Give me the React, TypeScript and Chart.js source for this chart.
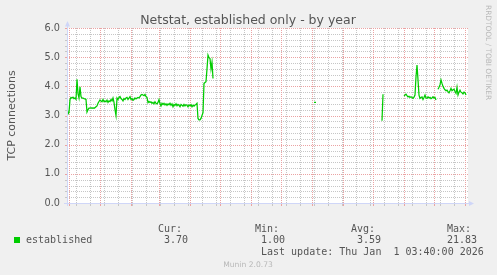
import React, { useEffect, useRef } from 'react';
import { Chart, registerables } from 'chart.js';

Chart.register(...registerables);

// ---- texts ----
const TITLE = 'Netstat, established only - by year';
const Y_TITLE = 'TCP connections';
const SERIES_NAME = 'established';
const STAT_HEADERS = ['Cur:', 'Min:', 'Avg:', 'Max:'];
const STAT_VALUES = ['3.70', '1.00', '3.59', '21.83'];
const LAST_UPDATE = 'Last update: Thu Jan  1 03:40:00 2026';
const VERSION = 'Munin 2.0.73';
const WATERMARK = 'RRDTOOL / TOBI OETIKER';

// ---- x axis (days relative to 2025-01-01) ----
const X_MIN = -33;
const X_MAX = 368;
const MONTH_LINES = [-31, 0, 31, 59, 90, 120, 151, 181, 212, 243, 273, 304, 334, 365];
const WEEK_LINES = [-24, -10, 4, 18, 32, 46, 60, 74, 88, 102, 116, 130, 144, 158, 172, 186, 200, 214, 228, 242, 256, 270, 284, 298, 312, 326, 340, 354];
const X_LABEL_POS = [15.5, 105, 196.5, 288.5];
const X_LABELS = ['January 2025', 'April 2025', 'July 2025', 'October 2025'];

// ---- y axis ----
const Y_MIN = 0;
const Y_MAX = 6;
const Y_MAJOR = [0, 1, 2, 3, 4, 5, 6];
const Y_MINOR_STEP = 0.2;

// ---- series (daily averages), segments separated by missing data ----
const SEG1_START = -33;
const SEG1 = [
  3.3, 3.05, 3.1, 3.55, 3.62, 3.6, 3.63, 3.58, 3.6, 3.55,
  4.24, 3.75, 3.6, 3.98, 3.65, 3.6, 3.6, 3.58, 3.57, 3.55,
  3.12, 3.2, 3.25, 3.25, 3.27, 3.25, 3.26, 3.25, 3.27, 3.3,
  3.33, 3.42, 3.48, 3.53, 3.5, 3.47, 3.55, 3.48, 3.5, 3.47,
  3.53, 3.45, 3.5, 3.48, 3.55, 3.5, 3.6, 3.45, 3.2, 3.0,
  3.6, 3.55, 3.62, 3.65, 3.58, 3.55, 3.5, 3.58, 3.55, 3.6,
  3.62, 3.55, 3.6, 3.65, 3.55, 3.58, 3.52, 3.55, 3.6, 3.57,
  3.6, 3.62, 3.6, 3.65, 3.7, 3.72, 3.7, 3.68, 3.72, 3.65,
  3.62, 3.44, 3.48, 3.45, 3.47, 3.42, 3.45, 3.4, 3.47, 3.42,
  3.4, 3.45, 3.55, 3.4, 3.33, 3.42, 3.38, 3.42, 3.36, 3.4,
  3.35, 3.4, 3.37, 3.42, 3.35, 3.4, 3.3, 3.38, 3.35, 3.4,
  3.33, 3.38, 3.35, 3.3, 3.38, 3.35, 3.32, 3.38, 3.33, 3.37,
  3.35, 3.3, 3.36, 3.33, 3.37, 3.3, 3.35, 3.32, 3.36, 3.38,
  3.42, 2.9, 2.85, 2.85, 2.9, 3.0, 3.1, 4.1, 4.13, 4.16,
  4.6, 5.07, 4.98, 4.95, 4.6, 4.83, 4.27,
];
const SEG2_START = 214;
const SEG2 = [3.45, 3.45, 3.45];
const SEG3_START = 282;
const SEG3 = [2.82, 3.73];
const SEG4_START = 304;
const SEG4 = [
  3.67, 3.7, 3.73, 3.68, 3.64, 3.66, 3.62, 3.64, 3.62, 3.59,
  3.63, 3.7, 4.33, 4.73, 4.22, 3.7, 3.59, 3.62, 3.64, 3.55,
  3.62, 3.7, 3.6, 3.59, 3.64, 3.6, 3.62, 3.58, 3.6, 3.64,
  3.6, 3.62, 3.53,
];
const SEG5_START = 338;
const SEG5 = [
  3.9, 3.97, 4.05, 4.22, 4.1, 4.0, 3.93, 3.88, 3.85, 3.87,
  3.82, 3.78, 3.85, 3.93, 3.85, 3.88, 3.9, 3.82, 3.76, 3.97,
  3.7, 3.8, 3.87, 3.8, 3.78, 3.74, 3.8, 3.78, 3.7,
];

// ---- styles ----
const BG = '#F0F0F0';
const CANVAS_BG = '#FFFFFF';
const FONT_COLOR = '#555555';
const AXIS_COLOR = '#CFD6F8';
const MAJOR_GRID = '#eba3a3';
const MINOR_GRID = '#c6c6c6';
const LINE_COLOR = '#00CC00';
const WM_COLOR = '#b8b8b8';
const SANS = "'DejaVu Sans', sans-serif";
const MONO = "'DejaVu Sans Mono', monospace";

function buildPoints() {
  const segs: [number, number[]][] = [
    [SEG1_START, SEG1],
    [SEG2_START, SEG2],
    [SEG3_START, SEG3],
    [SEG4_START, SEG4],
    [SEG5_START, SEG5],
  ];
  const pts: { x: number; y: number | null }[] = [];
  segs.forEach(([start, vals], si) => {
    if (si > 0) pts.push({ x: start - 0.5, y: null });
    vals.forEach((v, i) => pts.push({ x: start + i, y: v }));
  });
  return pts;
}

function yGridValues() {
  const n = Math.round((Y_MAX - Y_MIN) / Y_MINOR_STEP);
  const out: number[] = [];
  for (let i = 0; i <= n; i++) out.push(Math.round((Y_MIN + i * Y_MINOR_STEP) * 10) / 10);
  return out;
}

const isMajorY = (v: number) => Y_MAJOR.some((m) => Math.abs(m - v) < 1e-6);

const muninPlugin = {
  id: 'muninDecor',
  beforeDraw(chart: any) {
    const { ctx, chartArea: a } = chart;
    ctx.save();
    ctx.fillStyle = BG;
    ctx.fillRect(0, 0, chart.width, chart.height);
    ctx.fillStyle = CANVAS_BG;
    ctx.fillRect(a.left, a.top, a.right - a.left, a.bottom - a.top);
    ctx.restore();
  },
  beforeDatasetsDraw(chart: any) {
    // rrdtool-style dotted grid, positioned through the chart's scales
    const { ctx, chartArea: a, scales } = chart;
    const xs = scales.x;
    const ys = scales.y;
    const top = Math.round(a.top);
    const bottom = Math.round(a.bottom);
    const left = Math.round(a.left);
    const right = Math.round(a.right);
    ctx.save();
    const vLine = (v: number, color: string) => {
      const c = Math.round(xs.getPixelForValue(v));
      if (c < left || c >= right) return;
      ctx.fillStyle = color;
      for (let y = top; y < bottom; y += 2) ctx.fillRect(c, y, 1, 1);
      ctx.fillRect(c, bottom + 1, 1, 2); // tick mark below axis
    };
    const hLine = (v: number, color: string) => {
      const r = Math.round(ys.getPixelForValue(v));
      if (r < top || r > bottom) return;
      ctx.fillStyle = color;
      for (let x = left; x < right; x += 2) ctx.fillRect(x, r, 1, 1);
      ctx.fillRect(left - 2, r, 2, 1); // tick mark left of axis
    };
    const yv = yGridValues();
    WEEK_LINES.forEach((v) => vLine(v, MINOR_GRID));
    yv.filter((v) => !isMajorY(v)).forEach((v) => hLine(v, MINOR_GRID));
    MONTH_LINES.forEach((v) => vLine(v, MAJOR_GRID));
    yv.filter((v) => isMajorY(v)).forEach((v) => hLine(v, MAJOR_GRID));
    ctx.restore();
  },
  afterDraw(chart: any) {
    const { ctx, chartArea: a } = chart;
    ctx.save();
    // axes
    ctx.strokeStyle = AXIS_COLOR;
    ctx.lineWidth = 1;
    ctx.beginPath();
    ctx.moveTo(a.left - 3, a.bottom + 0.5);
    ctx.lineTo(a.right + 1, a.bottom + 0.5);
    ctx.moveTo(a.left + 0.5, a.bottom + 3);
    ctx.lineTo(a.left + 0.5, a.top - 2);
    ctx.stroke();
    ctx.fillStyle = AXIS_COLOR;
    ctx.beginPath();
    ctx.moveTo(a.right + 1, a.bottom - 2);
    ctx.lineTo(a.right + 6, a.bottom + 0.5);
    ctx.lineTo(a.right + 1, a.bottom + 3);
    ctx.closePath();
    ctx.fill();
    ctx.beginPath();
    ctx.moveTo(a.left - 2, a.top - 1.5);
    ctx.lineTo(a.left + 0.5, a.top - 7);
    ctx.lineTo(a.left + 3, a.top - 1.5);
    ctx.closePath();
    ctx.fill();

    // title
    ctx.fillStyle = FONT_COLOR;
    ctx.font = `12.5px ${SANS}`;
    ctx.textAlign = 'center';
    ctx.textBaseline = 'alphabetic';
    ctx.fillText(TITLE, 248, 24);

    // y title
    ctx.save();
    ctx.font = `11px ${SANS}`;
    ctx.translate(15, (a.top + a.bottom) / 2);
    ctx.rotate(-Math.PI / 2);
    ctx.textAlign = 'center';
    ctx.fillText(Y_TITLE, 0, 0);
    ctx.restore();

    // legend
    ctx.font = `10px ${MONO}`;
    ctx.textAlign = 'left';
    const headX = [158, 255, 351, 447];
    const valX = [164, 261, 357, 447];
    STAT_HEADERS.forEach((h, i) => ctx.fillText(h, headX[i], 231.5));
    ctx.fillStyle = LINE_COLOR;
    ctx.fillRect(14, 237, 6, 6);
    ctx.fillStyle = FONT_COLOR;
    ctx.fillText(SERIES_NAME, 26, 243);
    STAT_VALUES.forEach((v, i) => ctx.fillText(v, valX[i], 243));
    ctx.fillText(LAST_UPDATE, 261, 254.5);

    // watermarks
    ctx.fillStyle = WM_COLOR;
    ctx.font = `7.6px ${SANS}`;
    ctx.textAlign = 'center';
    ctx.fillText(VERSION, 248, 267);
    ctx.save();
    ctx.font = `7.4px ${SANS}`;
    ctx.translate(485.5, 5);
    ctx.rotate(Math.PI / 2);
    ctx.textAlign = 'left';
    ctx.fillText(WATERMARK, 0, 0);
    ctx.restore();
    ctx.restore();
  },
};

export default function App() {
  const ref = useRef<HTMLCanvasElement>(null);
  useEffect(() => {
    const canvas = ref.current;
    if (!canvas) return;
    const chart = new Chart(canvas, {
      type: 'line',
      data: {
        datasets: [
          {
            label: SERIES_NAME,
            data: buildPoints() as any,
            borderColor: LINE_COLOR,
            backgroundColor: LINE_COLOR,
            borderWidth: 1.25,
            pointRadius: 0,
            tension: 0,
            spanGaps: false,
            xAxisID: 'x',
            yAxisID: 'y',
          },
        ],
      },
      options: {
        animation: false,
        responsive: false,
        devicePixelRatio: 1,
        events: [],
        layout: { padding: { left: 0, right: 29, top: 28, bottom: 72 } },
        plugins: { legend: { display: false }, title: { display: false }, tooltip: { enabled: false } },
        scales: {
          x: {
            type: 'linear',
            position: 'bottom',
            min: X_MIN,
            max: X_MAX,
            afterBuildTicks: (s: any) => {
              s.ticks = [...WEEK_LINES, ...MONTH_LINES]
                .sort((p, q) => p - q)
                .map((v) => ({ value: v }));
            },
            afterFit: (s: any) => {
              s.height = 0;
            },
            ticks: { display: false, autoSkip: false },
            grid: { display: false, drawTicks: false },
            border: { display: false },
          },
          x2: {
            type: 'linear',
            position: 'bottom',
            min: X_MIN,
            max: X_MAX,
            afterBuildTicks: (s: any) => {
              s.ticks = X_LABEL_POS.map((v) => ({ value: v }));
            },
            afterFit: (s: any) => {
              s.height = 0;
            },
            ticks: {
              autoSkip: false,
              maxRotation: 0,
              minRotation: 0,
              padding: 3,
              color: FONT_COLOR,
              font: { family: SANS, size: 9.7 },
              callback: (_v: any, i: number) => X_LABELS[i],
            },
            grid: { display: false, drawTicks: false, drawOnChartArea: false },
            border: { display: false },
          },
          y: {
            type: 'linear',
            position: 'left',
            min: Y_MIN,
            max: Y_MAX,
            afterBuildTicks: (s: any) => {
              s.ticks = Y_MAJOR.map((v) => ({ value: v }));
            },
            afterFit: (s: any) => {
              s.width = 67;
            },
            ticks: {
              autoSkip: false,
              padding: 7,
              color: FONT_COLOR,
              font: { family: SANS, size: 9.7 },
              callback: (v: any) => Number(v).toFixed(1),
            },
            grid: { display: false, drawTicks: false },
            border: { display: false },
          },
        },
      } as any,
      plugins: [muninPlugin as any],
    });
    return () => chart.destroy();
  }, []);
  return (
    <div style={{ position: 'fixed', left: 0, top: 0, width: 497, height: 275, background: BG }}>
      <canvas ref={ref} width={497} height={275} style={{ display: 'block', width: 497, height: 275 }} />
    </div>
  );
}
